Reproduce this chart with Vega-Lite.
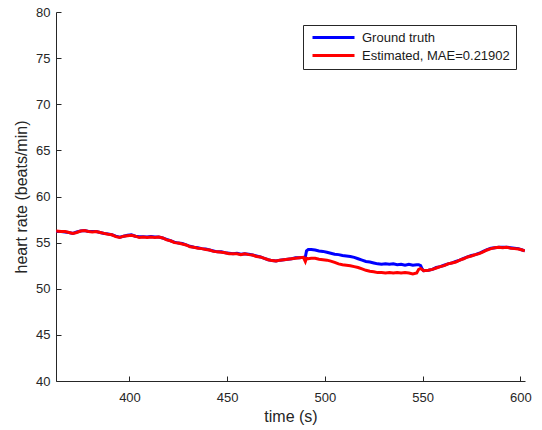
{
  "$schema": "https://vega.github.io/schema/vega-lite/v6.json",
  "autosize": "none",
  "width": 469,
  "height": 369,
  "padding": {"left": 56, "top": 12, "right": 17, "bottom": 49},
  "background": "white",
  "config": {
    "view": {"stroke": null},
    "font": "Liberation Sans",
    "axis": {
      "grid": false,
      "domainColor": "#262626",
      "tickColor": "#262626",
      "labelColor": "#262626",
      "titleColor": "#262626",
      "labelFont": "Liberation Sans",
      "titleFont": "Liberation Sans",
      "labelFontSize": 13,
      "titleFontSize": 16,
      "titleFontWeight": "normal",
      "tickSize": -5
    },
    "legend": {
      "orient": "none",
      "legendX": 247,
      "legendY": 13,
      "symbolType": "stroke",
      "symbolSize": 1764,
      "symbolStrokeWidth": 3,
      "clipHeight": 13,
      "rowPadding": 4,
      "padding": 6,
      "symbolOffset": 2,
      "labelOffset": 6,
      "strokeColor": "#262626",
      "fillColor": "white",
      "labelFont": "Liberation Sans",
      "labelFontSize": 13,
      "labelColor": "#1a1a1a",
      "labelLimit": 0,
      "cornerRadius": 0
    }
  },
  "data": {
    "values": [
      {"t": 362.5, "gt": 56.2, "est": 56.25},
      {"t": 365, "gt": 56.2, "est": 56.2},
      {"t": 367, "gt": 56.15, "est": 56.2},
      {"t": 369, "gt": 56.1, "est": 56.1},
      {"t": 371, "gt": 56.0, "est": 56.0},
      {"t": 373, "gt": 56.15, "est": 56.1},
      {"t": 375, "gt": 56.25, "est": 56.25},
      {"t": 377, "gt": 56.3, "est": 56.3},
      {"t": 379, "gt": 56.2, "est": 56.2},
      {"t": 381, "gt": 56.2, "est": 56.15},
      {"t": 383, "gt": 56.2, "est": 56.2},
      {"t": 385, "gt": 56.1, "est": 56.1},
      {"t": 387, "gt": 56.0, "est": 56.0},
      {"t": 389, "gt": 55.95, "est": 55.9},
      {"t": 391, "gt": 55.85, "est": 55.85},
      {"t": 393, "gt": 55.7, "est": 55.65},
      {"t": 395, "gt": 55.6, "est": 55.55},
      {"t": 397, "gt": 55.7, "est": 55.7},
      {"t": 399, "gt": 55.8, "est": 55.75},
      {"t": 401, "gt": 55.85, "est": 55.8},
      {"t": 403, "gt": 55.7, "est": 55.7},
      {"t": 405, "gt": 55.65, "est": 55.55},
      {"t": 407, "gt": 55.65, "est": 55.6},
      {"t": 409, "gt": 55.6, "est": 55.55},
      {"t": 411, "gt": 55.65, "est": 55.6},
      {"t": 413, "gt": 55.6, "est": 55.55},
      {"t": 415, "gt": 55.6, "est": 55.6},
      {"t": 417, "gt": 55.5, "est": 55.5},
      {"t": 419, "gt": 55.35, "est": 55.3},
      {"t": 421, "gt": 55.2, "est": 55.2},
      {"t": 423, "gt": 55.05, "est": 55.0},
      {"t": 425, "gt": 54.95, "est": 54.95},
      {"t": 427, "gt": 54.9, "est": 54.85},
      {"t": 429, "gt": 54.75, "est": 54.75},
      {"t": 431, "gt": 54.6, "est": 54.55},
      {"t": 433, "gt": 54.5, "est": 54.5},
      {"t": 435, "gt": 54.45, "est": 54.4},
      {"t": 437, "gt": 54.35, "est": 54.35},
      {"t": 439, "gt": 54.3, "est": 54.25},
      {"t": 441, "gt": 54.2, "est": 54.2},
      {"t": 443, "gt": 54.1, "est": 54.05},
      {"t": 445, "gt": 54.0, "est": 54.0},
      {"t": 447, "gt": 54.0, "est": 53.95},
      {"t": 449, "gt": 53.9, "est": 53.9},
      {"t": 451, "gt": 53.85, "est": 53.8},
      {"t": 453, "gt": 53.8, "est": 53.8},
      {"t": 455, "gt": 53.85, "est": 53.8},
      {"t": 457, "gt": 53.75, "est": 53.7},
      {"t": 459, "gt": 53.8, "est": 53.8},
      {"t": 461, "gt": 53.75, "est": 53.7},
      {"t": 463, "gt": 53.65, "est": 53.65},
      {"t": 465, "gt": 53.55, "est": 53.5},
      {"t": 467, "gt": 53.45, "est": 53.45},
      {"t": 469, "gt": 53.3, "est": 53.3},
      {"t": 471, "gt": 53.15, "est": 53.15},
      {"t": 473, "gt": 53.05, "est": 53.05},
      {"t": 475, "gt": 53.0, "est": 53.0},
      {"t": 477, "gt": 53.1, "est": 53.1},
      {"t": 479, "gt": 53.15, "est": 53.15},
      {"t": 481, "gt": 53.2, "est": 53.2},
      {"t": 483, "gt": 53.25, "est": 53.25},
      {"t": 485, "gt": 53.35, "est": 53.3},
      {"t": 487, "gt": 53.35, "est": 53.35},
      {"t": 489, "gt": 53.4, "est": 53.4},
      {"t": 490, "gt": 53.45, "est": 52.95},
      {"t": 490.6, "gt": 54.1, "est": 53.3},
      {"t": 491.5, "gt": 54.25, "est": 53.25},
      {"t": 493, "gt": 54.25, "est": 53.3},
      {"t": 495, "gt": 54.2, "est": 53.3},
      {"t": 497, "gt": 54.1, "est": 53.2},
      {"t": 499, "gt": 54.05, "est": 53.15},
      {"t": 501, "gt": 53.95, "est": 53.1},
      {"t": 503, "gt": 53.85, "est": 53.0},
      {"t": 505, "gt": 53.75, "est": 52.85},
      {"t": 507, "gt": 53.7, "est": 52.7},
      {"t": 509, "gt": 53.6, "est": 52.6},
      {"t": 511, "gt": 53.55, "est": 52.55},
      {"t": 513, "gt": 53.5, "est": 52.5},
      {"t": 515, "gt": 53.4, "est": 52.4},
      {"t": 517, "gt": 53.25, "est": 52.3},
      {"t": 519, "gt": 53.1, "est": 52.15},
      {"t": 521, "gt": 52.95, "est": 52.0},
      {"t": 523, "gt": 52.9, "est": 51.9},
      {"t": 525, "gt": 52.8, "est": 51.85},
      {"t": 527, "gt": 52.7, "est": 51.75},
      {"t": 529, "gt": 52.65, "est": 51.75},
      {"t": 531, "gt": 52.7, "est": 51.7},
      {"t": 533, "gt": 52.65, "est": 51.75},
      {"t": 535, "gt": 52.7, "est": 51.7},
      {"t": 537, "gt": 52.6, "est": 51.75},
      {"t": 539, "gt": 52.65, "est": 51.7},
      {"t": 541, "gt": 52.55, "est": 51.75},
      {"t": 543, "gt": 52.65, "est": 51.7},
      {"t": 545, "gt": 52.55, "est": 51.6},
      {"t": 547, "gt": 52.6, "est": 51.7},
      {"t": 548, "gt": 52.6, "est": 52.1},
      {"t": 549, "gt": 52.5, "est": 52.2},
      {"t": 549.6, "gt": 52.2, "est": 52.1},
      {"t": 550.5, "gt": 51.95, "est": 51.95},
      {"t": 553, "gt": 52.0, "est": 52.0},
      {"t": 555, "gt": 52.1, "est": 52.1},
      {"t": 557, "gt": 52.3, "est": 52.25},
      {"t": 559, "gt": 52.4, "est": 52.4},
      {"t": 561, "gt": 52.55, "est": 52.5},
      {"t": 563, "gt": 52.7, "est": 52.7},
      {"t": 565, "gt": 52.8, "est": 52.8},
      {"t": 567, "gt": 52.95, "est": 52.9},
      {"t": 569, "gt": 53.1, "est": 53.1},
      {"t": 571, "gt": 53.3, "est": 53.25},
      {"t": 573, "gt": 53.45, "est": 53.45},
      {"t": 575, "gt": 53.6, "est": 53.55},
      {"t": 577, "gt": 53.7, "est": 53.7},
      {"t": 579, "gt": 53.85, "est": 53.8},
      {"t": 581, "gt": 54.05, "est": 54.0},
      {"t": 583, "gt": 54.25, "est": 54.2},
      {"t": 585, "gt": 54.4, "est": 54.35},
      {"t": 587, "gt": 54.45, "est": 54.45},
      {"t": 589, "gt": 54.5, "est": 54.5},
      {"t": 591, "gt": 54.5, "est": 54.45},
      {"t": 593, "gt": 54.5, "est": 54.5},
      {"t": 595, "gt": 54.45, "est": 54.4},
      {"t": 597, "gt": 54.4, "est": 54.35},
      {"t": 599, "gt": 54.35, "est": 54.3},
      {"t": 601, "gt": 54.2, "est": 54.2},
      {"t": 602.3, "gt": 54.1, "est": 54.1}
    ]
  },
  "encoding": {
    "x": {
      "field": "t",
      "type": "quantitative",
      "title": "time (s)",
      "scale": {"domain": [362.4, 602.4], "nice": false, "zero": false},
      "axis": {"values": [400, 450, 500, 550, 600], "labelPadding": 15, "titlePadding": 4, "labelFlush": false}
    }
  },
  "layer": [
    {
      "mark": {"type": "line", "strokeWidth": 3, "clip": true},
      "encoding": {
        "y": {
          "field": "gt",
          "type": "quantitative",
          "title": "heart rate (beats/min)",
          "scale": {"domain": [40, 80], "nice": false, "zero": false},
          "axis": {"values": [40, 45, 50, 55, 60, 65, 70, 75, 80], "labelPadding": 11, "titlePadding": 6}
        },
        "color": {
          "datum": "Ground truth",
          "type": "nominal",
          "scale": {"domain": ["Ground truth", "Estimated, MAE=0.21902"], "range": ["#0000ff", "#ff0000"]},
          "legend": {"title": null}
        }
      }
    },
    {
      "mark": {"type": "line", "strokeWidth": 3, "clip": true},
      "encoding": {
        "y": {"field": "est", "type": "quantitative"},
        "color": {"datum": "Estimated, MAE=0.21902", "type": "nominal"}
      }
    }
  ]
}
